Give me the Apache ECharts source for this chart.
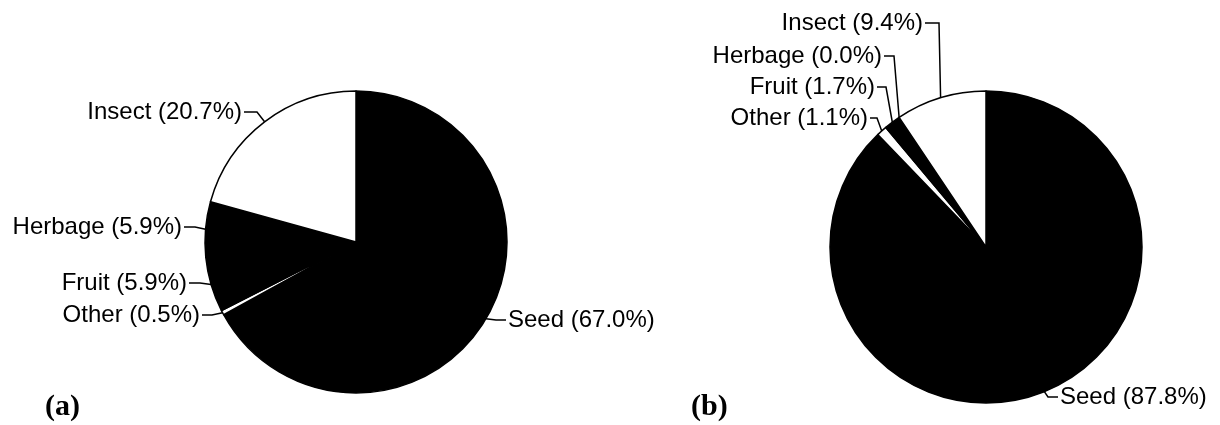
<!DOCTYPE html>
<html>
<head>
<meta charset="utf-8">
<script src="https://cdn.jsdelivr.net/npm/echarts@6/dist/echarts.min.js"></script>
<style>
  html, body { margin: 0; padding: 0; background: #fff; }
  #chart { width: 1220px; height: 425px; }
</style>
</head>
<body>
<div id="chart"></div>
<script>
// slice order is clockwise from 12 o'clock, as in the figure
var namesA = ['Seed', 'Other', 'Fruit', 'Herbage', 'Insect'];
var valuesA = [67.0, 0.5, 5.9, 5.9, 20.7];
var namesB = ['Seed', 'Other', 'Fruit', 'Herbage', 'Insect'];
var valuesB = [87.8, 1.1, 1.7, 0.0, 9.4];
var panelLabels = ['(a)', '(b)'];

var sliceColors = { Seed: '#000', Other: '#fff', Fruit: '#000', Herbage: '#000', Insect: '#fff' };

// where each label text sits and where its leader line bends
var labelPosA = {
  Seed:    { x: 508, y: 320, align: 'left',  bend: [496, 320], end: [506, 320] },
  Other:   { x: 200, y: 315, align: 'right', bend: [212, 315], end: [202, 315] },
  Fruit:   { x: 187, y: 283, align: 'right', bend: [200, 283], end: [189, 283] },
  Herbage: { x: 182, y: 227, align: 'right', bend: [195, 227], end: [184, 227] },
  Insect:  { x: 242, y: 112, align: 'right', bend: [257, 112], end: [244, 112] }
};
var labelPosB = {
  Seed:    { x: 1060, y: 397, align: 'left',  bend: [1048, 397], end: [1058, 397] },
  Other:   { x: 868, y: 118, align: 'right', bend: [877, 118], end: [870, 118] },
  Fruit:   { x: 875, y: 87,  align: 'right', bend: [886, 87],  end: [877, 87] },
  Herbage: { x: 882, y: 56,  align: 'right', bend: [894, 56],  end: [884, 56] },
  Insect:  { x: 923, y: 23,  align: 'right', bend: [939, 23],  end: [925, 23] }
};

function buildData(names, values) {
  return names.map(function (n, i) {
    return { name: n, value: values[i], itemStyle: { color: sliceColors[n] } };
  });
}

function layoutFor(names, pos) {
  return function (params) {
    var p = pos[names[params.dataIndex]];
    var anchor = params.labelLinePoints ? params.labelLinePoints[0] : p.bend;
    return {
      x: p.x,
      y: p.y,
      align: p.align,
      verticalAlign: 'middle',
      labelLinePoints: [anchor, p.bend, p.end]
    };
  };
}

function pieSeries(names, values, center, radius, pos) {
  return {
    type: 'pie',
    center: center,
    radius: radius,
    startAngle: 90,
    clockwise: true,
    animation: false,
    avoidLabelOverlap: false,
    silent: true,
    itemStyle: { borderColor: '#000', borderWidth: 1.5 },
    label: {
      show: true,
      position: 'outside',
      color: '#000',
      fontFamily: 'Liberation Sans',
      fontSize: 24,
      formatter: function (p) { return p.name + ' (' + p.value.toFixed(1) + '%)'; }
    },
    labelLine: {
      show: true,
      length: 10,
      length2: 10,
      lineStyle: { color: '#000', width: 1.5 }
    },
    labelLayout: layoutFor(names, pos),
    emphasis: { disabled: true },
    data: buildData(names, values)
  };
}

var myChart = echarts.init(document.getElementById('chart'));
myChart.setOption({
  backgroundColor: '#fff',
  title: [
    { text: panelLabels[0], left: 40, top: 387,
      textStyle: { fontFamily: 'Liberation Serif', fontWeight: 'bold', fontSize: 30, color: '#000' } },
    { text: panelLabels[1], left: 686, top: 387,
      textStyle: { fontFamily: 'Liberation Serif', fontWeight: 'bold', fontSize: 30, color: '#000' } }
  ],
  series: [
    pieSeries(namesA, valuesA, [356, 242], 151, labelPosA),
    pieSeries(namesB, valuesB, [986, 247], 156, labelPosB)
  ]
});
</script>
</body>
</html>
